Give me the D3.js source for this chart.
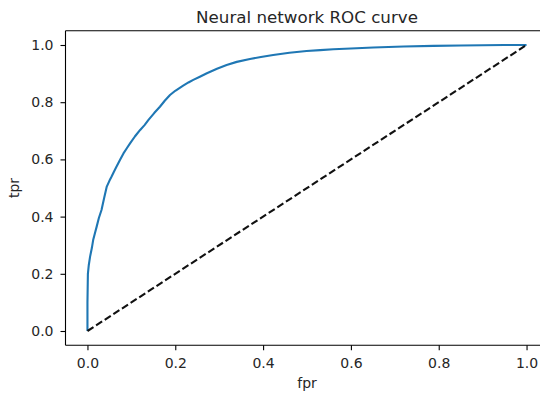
<!DOCTYPE html>
<html><head><meta charset="utf-8">
<script src="https://cdn.jsdelivr.net/npm/d3@7"></script>
<style>body{margin:0;background:#fff;overflow:hidden}svg{display:block}text{font-family:"DejaVu Sans",sans-serif}</style>
</head><body><div id="c"></div>
<script>
const fpr = [0,0,0.001,0.003,0.006,0.01,0.013,0.017,0.021,0.026,0.032,0.038,0.044,0.05,0.055,0.06,0.066,0.074,0.082,0.09,0.097,0.108,0.12,0.13,0.139,0.152,0.165,0.176,0.188,0.2,0.218,0.23,0.241,0.256,0.272,0.295,0.317,0.34,0.37,0.395,0.423,0.46,0.499,0.53,0.56,0.6,0.651,0.72,0.788,0.85,0.9,0.95,1.0];
const tpr = [0,0.1,0.2,0.23,0.26,0.29,0.318,0.342,0.365,0.395,0.423,0.465,0.505,0.525,0.54,0.556,0.574,0.598,0.621,0.64,0.656,0.68,0.703,0.72,0.738,0.762,0.784,0.805,0.825,0.84,0.858,0.869,0.878,0.889,0.901,0.917,0.93,0.941,0.951,0.958,0.965,0.973,0.979,0.982,0.985,0.988,0.991,0.995,0.997,0.998,0.999,1.0,1.0];
const diagX = [0,1];
const diagY = [0,1];
const xTicks = [0,0.2,0.4,0.6,0.8,1.0];
const yTicks = [0,0.2,0.4,0.6,0.8,1.0];
const title = "Neural network ROC curve";
const xLabel = "fpr", yLabel = "tpr";

const W = 540, H = 394;
const m = {left:65.5, right:548.5, top:30.7, bottom:345.3};
const svg = d3.select("#c").append("svg").attr("width",W).attr("height",H);
const x = d3.scaleLinear().domain([-0.05,1.05]).range([m.left,m.right]);
const y = d3.scaleLinear().domain([-0.05,1.05]).range([m.bottom,m.top]);

const line = d3.line().x(d=>x(d[0])).y(d=>y(d[1]));
svg.append("path").datum(fpr.map((v,i)=>[v,tpr[i]]))
  .attr("d",line).attr("fill","none").attr("stroke","#1f77b4").attr("stroke-width",2.1).attr("stroke-linejoin","round");
svg.append("path").datum(diagX.map((v,i)=>[v,diagY[i]]))
  .attr("d",line).attr("fill","none").attr("stroke","#111").attr("stroke-width",2.1).attr("stroke-dasharray","7.2,3.1");

// spines (right spine lies outside the window)
const sp = svg.append("g").attr("stroke","#000").attr("stroke-width",1.1);
sp.append("line").attr("x1",m.left).attr("x2",m.left).attr("y1",m.top).attr("y2",m.bottom);
sp.append("line").attr("x1",m.left).attr("x2",W).attr("y1",m.top).attr("y2",m.top);
sp.append("line").attr("x1",m.left).attr("x2",W).attr("y1",m.bottom).attr("y2",m.bottom);

const xa = svg.append("g").attr("transform",`translate(0,${m.bottom})`)
  .call(d3.axisBottom(x).tickValues(xTicks).tickFormat(d3.format(".1f")).tickSize(5).tickPadding(8));
const ya = svg.append("g").attr("transform",`translate(${m.left},0)`)
  .call(d3.axisLeft(y).tickValues(yTicks).tickFormat(d3.format(".1f")).tickSize(5).tickPadding(7));
[xa,ya].forEach(g=>{
  g.select(".domain").remove();
  g.selectAll(".tick line").attr("stroke","#000").attr("stroke-width",1.1);
  g.selectAll(".tick text").attr("fill","#262626").style("font-size","14px").style("font-family","DejaVu Sans");
});

svg.append("text").attr("x",x(0.5)).attr("y",22.7).attr("text-anchor","middle")
  .style("font-size","16.7px").attr("fill","#262626").text(title);
svg.append("text").attr("x",x(0.5)).attr("y",388).attr("text-anchor","middle")
  .style("font-size","14px").attr("fill","#262626").text(xLabel);
svg.append("text").attr("transform",`translate(19,${y(0.5)}) rotate(-90)`).attr("text-anchor","middle")
  .style("font-size","14px").attr("fill","#262626").text(yLabel);
</script></body></html>
